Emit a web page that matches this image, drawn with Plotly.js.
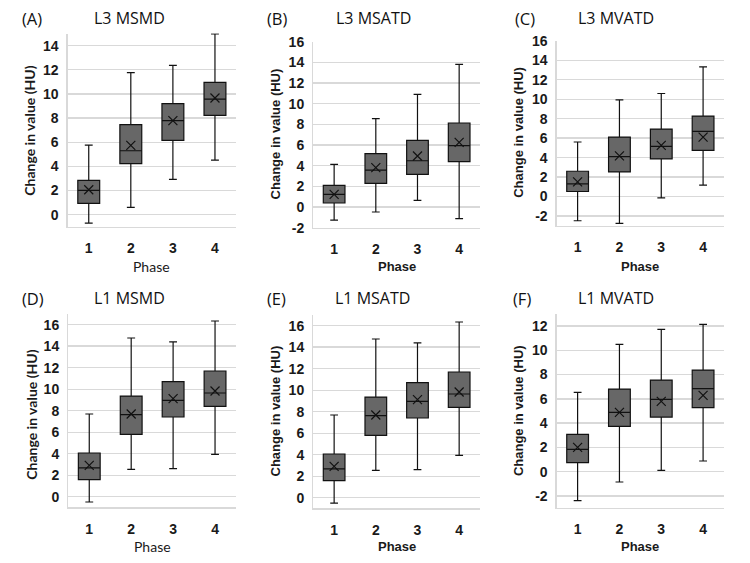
<!DOCTYPE html>
<html>
<head>
<meta charset="utf-8">
<script src="https://cdn.plot.ly/plotly-3.0.1.min.js"></script>
<style>
  html, body { margin: 0; padding: 0; background: #ffffff; }
  #chart { width: 750px; height: 563px; }
</style>
</head>
<body>
<div id="chart"></div>
<script>
// Phases on the x axis
const phases = ['1', '2', '3', '4'];

// Panel names and letters
const panelLetters = ['(A)', '(B)', '(C)', '(D)', '(E)', '(F)'];
const panelTitles = ['L3 MSMD', 'L3 MSATD', 'L3 MVATD', 'L1 MSMD', 'L1 MSATD', 'L1 MVATD'];

// Box statistics per panel (one value per phase)
// (A) L3 MSMD
const aLow = [-0.69, 0.61, 2.93, 4.53];
const aQ1 = [0.94, 4.23, 6.16, 8.23];
const aMed = [2.02, 5.30, 7.79, 9.58];
const aQ3 = [2.84, 7.46, 9.20, 10.96];
const aHigh = [5.77, 11.76, 12.37, 14.97];
const aMean = [2.07, 5.74, 7.79, 9.67];

// (B) L3 MSATD
const bLow = [-1.26, -0.48, 0.65, -1.13];
const bQ1 = [0.39, 2.29, 3.16, 4.39];
const bMed = [1.23, 3.58, 4.48, 5.94];
const bQ3 = [2.10, 5.16, 6.45, 8.13];
const bHigh = [4.13, 8.55, 10.90, 13.80];
const bMean = [1.23, 3.81, 4.94, 6.26];

// (C) L3 MVATD
const cLow = [-2.48, -2.75, -0.13, 1.17];
const cQ1 = [0.52, 2.53, 3.86, 4.75];
const cMed = [1.31, 4.10, 5.16, 6.69];
const cQ3 = [2.60, 6.11, 6.93, 8.26];
const cHigh = [5.60, 9.93, 10.58, 13.31];
const cMean = [1.51, 4.17, 5.26, 6.11];

// (D) L1 MSMD
const dLow = [-0.50, 2.54, 2.60, 3.94];
const dQ1 = [1.58, 5.80, 7.41, 8.40];
const dMed = [2.67, 7.63, 8.96, 9.64];
const dQ3 = [4.06, 9.36, 10.70, 11.69];
const dHigh = [7.69, 14.76, 14.39, 16.34];
const dMean = [2.91, 7.69, 9.12, 9.83];

// (E) L1 MSATD
const eLow = [-0.50, 2.54, 2.60, 3.94];
const eQ1 = [1.58, 5.80, 7.41, 8.40];
const eMed = [2.67, 7.63, 8.96, 9.64];
const eQ3 = [4.06, 9.36, 10.70, 11.69];
const eHigh = [7.69, 14.76, 14.39, 16.34];
const eMean = [2.91, 7.69, 9.12, 9.83];

// (F) L1 MVATD
const fLow = [-2.39, -0.85, 0.11, 0.88];
const fQ1 = [0.74, 3.73, 4.50, 5.27];
const fMed = [1.84, 4.89, 5.96, 6.84];
const fQ3 = [3.07, 6.81, 7.55, 8.37];
const fHigh = [6.53, 10.49, 11.72, 12.13];
const fMean = [2.00, 4.89, 5.79, 6.29];

// Y-axis ranges per panel
const yRanges = [[-1, 15], [-2, 16], [-3, 16], [-1, 17], [-1, 17], [-3, 13]];

const panels = [
  [aLow, aQ1, aMed, aQ3, aHigh, aMean],
  [bLow, bQ1, bMed, bQ3, bHigh, bMean],
  [cLow, cQ1, cMed, cQ3, cHigh, cMean],
  [dLow, dQ1, dMed, dQ3, dHigh, dMean],
  [eLow, eQ1, eMed, eQ3, eHigh, eMean],
  [fLow, fQ1, fMed, fQ3, fHigh, fMean]
];

// Plot-area rectangles in pixels: [left, right, top, bottom]
const W = 750, H = 563;
const rects = [
  [67.7, 236, 33.6, 226.8],
  [313.3, 480, 41.7, 227.7],
  [556.7, 724, 40.7, 225.8],
  [68.3, 236, 313.9, 507.4],
  [313.3, 480, 314.9, 508.4],
  [556.7, 724, 313.9, 508.1]
];

// Text placement in pixels
const letterPos = [[20, 18], [265, 18], [512.5, 18], [20, 298], [264.5, 298], [510.5, 298]];
const titlePos = [[129.5, 18], [373, 18], [615.5, 18], [129.5, 298], [372.5, 298], [615.5, 298]];
const yTitlePos = [[30, 130.7], [275.7, 133.7], [518.3, 132.5], [30.7, 415], [275.7, 410.8], [518.3, 410.8]];
const xTitleY = [266, 266.5, 266.5, 546.5, 546.5, 546.5];

const humanist = 'Lato, "Open Sans", sans-serif';
const titleFamily = '"Open Sans", Lato, sans-serif';
const sans = '"Liberation Sans", Arial, sans-serif';
const calibriLike = [true, false, false, true, false, false];

// Even gridline values inside a range, labelled with a plain hyphen for negatives
function evenTicks(range) {
  const vals = [];
  for (let v = Math.ceil(range[0] / 2) * 2; v <= range[1]; v += 2) vals.push(v);
  return vals;
}

const gridColor = '#d9d9d9';
const traces = [];
const layout = {
  width: W, height: H,
  margin: {l: 0, r: 0, t: 0, b: 0},
  paper_bgcolor: '#ffffff',
  plot_bgcolor: '#ffffff',
  showlegend: false,
  annotations: []
};

panels.forEach((p, i) => {
  const n = i === 0 ? '' : String(i + 1);
  const [low, q1, med, q3, high, mean] = p;
  const r = rects[i];

  traces.push({
    type: 'box',
    x: phases,
    lowerfence: low,
    q1: q1,
    median: med,
    q3: q3,
    upperfence: high,
    xaxis: 'x' + n,
    yaxis: 'y' + n,
    fillcolor: '#676767',
    line: {color: '#111111', width: 1.2},
    width: 0.52,
    whiskerwidth: 0.36,
    boxpoints: false,
    hoverinfo: 'skip'
  });
  traces.push({
    type: 'scatter',
    mode: 'markers',
    x: phases,
    y: mean,
    xaxis: 'x' + n,
    yaxis: 'y' + n,
    marker: {symbol: 'x-thin', size: 9, color: '#111111', line: {color: '#111111', width: 1.2}},
    hoverinfo: 'skip'
  });

  const tickFont = {family: sans, size: 14, color: '#1a1a1a', weight: 700};
  const tv = evenTicks(yRanges[i]);

  layout['xaxis' + n] = {
    domain: [r[0] / W, r[1] / W],
    anchor: 'y' + n,
    type: 'category',
    range: [-0.5, 3.5],
    showgrid: false,
    zeroline: false,
    showline: true,
    linecolor: gridColor,
    linewidth: 1.3,
    ticks: '',
    ticklabelstandoff: 8,
    tickfont: tickFont,
    fixedrange: true
  };
  layout['yaxis' + n] = {
    domain: [1 - r[3] / H, 1 - r[2] / H],
    anchor: 'x' + n,
    range: yRanges[i],
    tickmode: 'array',
    tickvals: tv,
    ticktext: tv.map(v => String(v)),
    showgrid: true,
    gridcolor: gridColor,
    gridwidth: 1.3,
    zeroline: false,
    showline: true,
    linecolor: gridColor,
    linewidth: 1.3,
    ticks: '',
    ticklabelstandoff: 5,
    tickfont: tickFont,
    fixedrange: true
  };

  // Panel letter
  layout.annotations.push({
    text: panelLetters[i], xref: 'paper', yref: 'paper',
    x: letterPos[i][0] / W, y: 1 - letterPos[i][1] / H,
    xanchor: 'left', yanchor: 'middle', showarrow: false,
    font: {family: titleFamily, size: 16.5, color: '#111111'}
  });
  // Panel title
  layout.annotations.push({
    text: panelTitles[i], xref: 'paper', yref: 'paper',
    x: titlePos[i][0] / W, y: 1 - titlePos[i][1] / H,
    xanchor: 'center', yanchor: 'middle', showarrow: false,
    font: {family: titleFamily, size: 16, color: '#111111'}
  });
  // Y axis title
  layout.annotations.push({
    text: 'Change in value (HU)', xref: 'paper', yref: 'paper',
    x: yTitlePos[i][0] / W, y: 1 - yTitlePos[i][1] / H,
    xanchor: 'center', yanchor: 'middle', textangle: -90, showarrow: false,
    font: calibriLike[i]
      ? {family: humanist, size: 14, color: '#1a1a1a', weight: 700}
      : {family: sans, size: 13, color: '#1a1a1a', weight: 700}
  });
  // X axis title
  layout.annotations.push({
    text: 'Phase', xref: 'paper', yref: 'paper',
    x: ((r[0] + r[1]) / 2) / W, y: 1 - xTitleY[i] / H,
    xanchor: 'center', yanchor: 'middle', showarrow: false,
    font: calibriLike[i]
      ? {family: humanist, size: 14, color: '#1a1a1a'}
      : {family: sans, size: 13, color: '#1a1a1a', weight: 700}
  });
});

Plotly.newPlot('chart', traces, layout, {staticPlot: true, displayModeBar: false});
</script>
</body>
</html>
